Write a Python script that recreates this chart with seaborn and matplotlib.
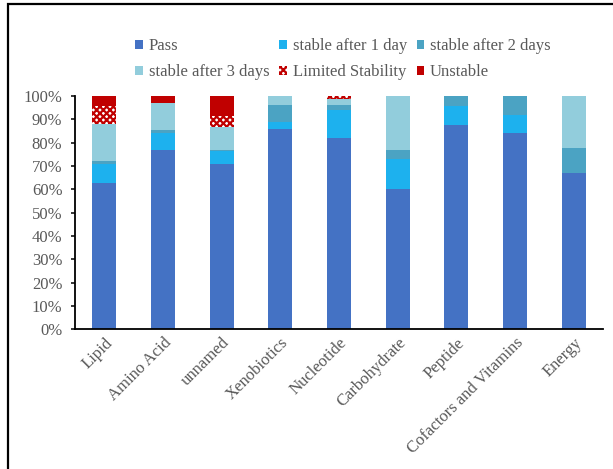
import matplotlib
matplotlib.use("Agg")
import matplotlib.pyplot as plt
import matplotlib.patches as mpatches
import seaborn as sns
import numpy as np

categories = ["Lipid", "Amino Acid", "unnamed", "Xenobiotics", "Nucleotide",
              "Carbohydrate", "Peptide", "Cofactors and Vitamins", "Energy"]
series_names = ["Pass", "stable after 1 day", "stable after 2 days",
                "stable after 3 days", "Limited Stability", "Unstable"]
pass_vals     = [62.5, 77.0, 71.0, 86.0, 82.0, 60.0, 87.5, 84.0, 67.0]
stable1_vals  = [8.5,  7.0,  5.5,  3.0,  12.0, 13.0, 8.0,  8.0,  0.0]
stable2_vals  = [1.0,  1.5,  0.5,  7.0,  2.0,  4.0,  4.5,  8.0,  10.5]
stable3_vals  = [16.0, 11.5, 9.5,  4.0,  2.5,  23.0, 0.0,  0.0,  22.5]
limited_vals  = [7.5,  0.0,  5.0,  0.0,  1.5,  0.0,  0.0,  0.0,  0.0]
unstable_vals = [4.5,  3.0,  8.5,  0.0,  0.0,  0.0,  0.0,  0.0,  0.0]

colors = ["#4472C4", "#1DB1EE", "#4BA3C3", "#92CDDC", "white", "#C00000"]
hatches = [None, None, None, None, "xxxxx", None]

sns.set_style("white")
plt.rcParams["font.family"] = ["Liberation Serif", "DejaVu Serif"]
plt.rcParams["hatch.linewidth"] = 1.6
text_col = "#595959"
fs = 12

fig = plt.figure(figsize=(6.13, 4.69), dpi=100)
ax = fig.add_axes([75/613, 1-329.3/469, (603-75)/613, (329.3-96)/469])

values = [pass_vals, stable1_vals, stable2_vals, stable3_vals, limited_vals, unstable_vals]
cum = np.cumsum(np.array(values), axis=0)

for i in range(len(series_names) - 1, -1, -1):
    kw = dict(x=categories, y=cum[i], color=colors[i], width=0.41, ax=ax,
              saturation=1, linewidth=0)
    if hatches[i]:
        kw.update(hatch=hatches[i], edgecolor="#C00000")
    sns.barplot(**kw)

ax.set_xlim(-0.5, len(categories) - 0.5)
ax.set_ylim(0, 100)
ax.set_yticks(np.arange(0, 101, 10))
ax.set_yticklabels([f"{v}%" for v in range(0, 101, 10)])
ax.set_xlabel("")
ax.set_ylabel("")
for s in ["top", "right"]:
    ax.spines[s].set_visible(False)
for s in ["left", "bottom"]:
    ax.spines[s].set_color("black")
    ax.spines[s].set_linewidth(1.3)
ax.tick_params(axis="y", left=True, length=3, width=1.1, color="black",
               labelsize=fs, labelcolor=text_col, pad=6, direction="out")
ax.tick_params(axis="x", bottom=False, length=0, labelsize=fs, labelcolor=text_col, pad=4)
plt.setp(ax.get_xticklabels(), rotation=45, ha="right", rotation_mode="anchor")

handles = []
for i, name in enumerate(series_names):
    if hatches[i]:
        handles.append(mpatches.Patch(facecolor="white", edgecolor="#C00000",
                                      hatch=hatches[i], linewidth=0, label=name))
    else:
        handles.append(mpatches.Patch(facecolor=colors[i], linewidth=0, label=name))
# legend fills column-wise; reorder so entries read row-wise (3 per row)
ncol = 3
nrow = 2
order = [r * ncol + c for c in range(ncol) for r in range(nrow)]
handles = [handles[k] for k in order]
leg = fig.legend(handles=handles, loc="center", bbox_to_anchor=(343/613, 1-59/469),
                 ncol=ncol, frameon=False, fontsize=fs, handlelength=0.45,
                 handleheight=0.45, handletextpad=0.35, columnspacing=0.6,
                 labelspacing=0.6)
for t in leg.get_texts():
    t.set_color(text_col)

border = mpatches.Rectangle((7.5/613, -0.05), 1.2, 1 - 4.5/469 + 0.05,
                            transform=fig.transFigure, fill=False,
                            edgecolor="black", linewidth=1.6)
fig.patches.append(border)

fig.savefig("out.png", dpi=100)
